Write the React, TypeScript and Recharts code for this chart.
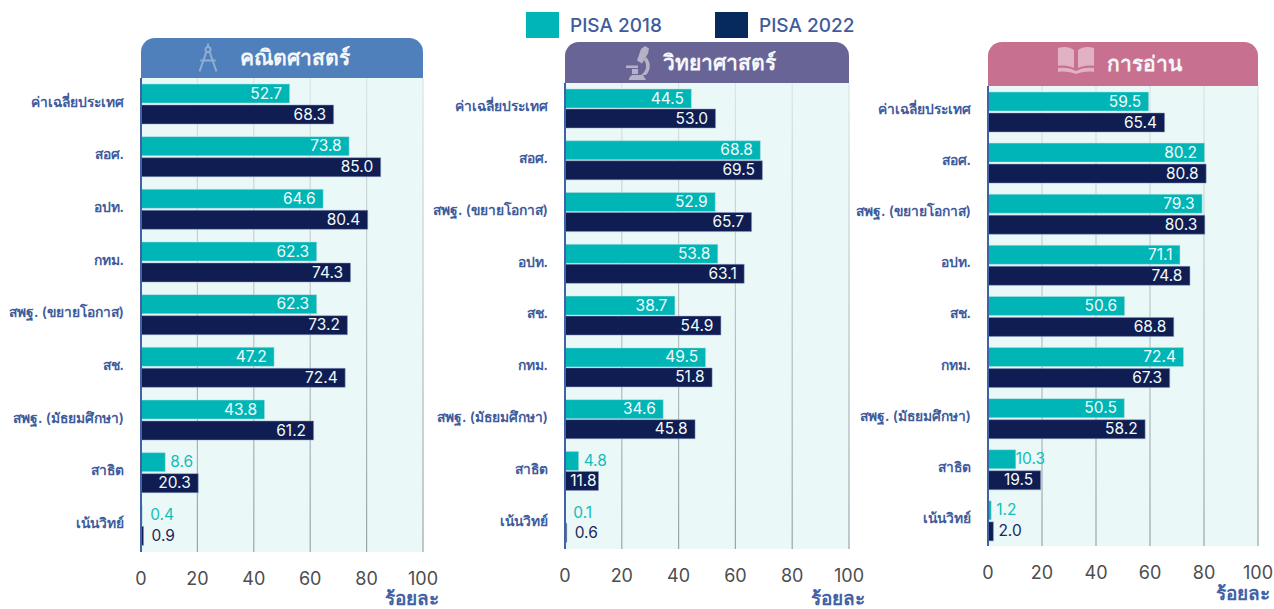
import React from 'react';
import { BarChart, Bar, XAxis, YAxis, CartesianGrid, LabelList } from 'recharts';

const mathCategories = ['ค่าเฉลี่ยประเทศ', 'สอศ.', 'อปท.', 'กทม.', 'สพฐ. (ขยายโอกาส)', 'สช.', 'สพฐ. (มัธยมศึกษา)', 'สาธิต', 'เน้นวิทย์'];
const math2018 = [52.7, 73.8, 64.6, 62.3, 62.3, 47.2, 43.8, 8.6, 0.4];
const math2022 = [68.3, 85.0, 80.4, 74.3, 73.2, 72.4, 61.2, 20.3, 0.9];

const scienceCategories = ['ค่าเฉลี่ยประเทศ', 'สอศ.', 'สพฐ. (ขยายโอกาส)', 'อปท.', 'สช.', 'กทม.', 'สพฐ. (มัธยมศึกษา)', 'สาธิต', 'เน้นวิทย์'];
const science2018 = [44.5, 68.8, 52.9, 53.8, 38.7, 49.5, 34.6, 4.8, 0.1];
const science2022 = [53.0, 69.5, 65.7, 63.1, 54.9, 51.8, 45.8, 11.8, 0.6];

const readingCategories = ['ค่าเฉลี่ยประเทศ', 'สอศ.', 'สพฐ. (ขยายโอกาส)', 'อปท.', 'สช.', 'กทม.', 'สพฐ. (มัธยมศึกษา)', 'สาธิต', 'เน้นวิทย์'];
const reading2018 = [59.5, 80.2, 79.3, 71.1, 50.6, 72.4, 50.5, 10.3, 1.2];
const reading2022 = [65.4, 80.8, 80.3, 74.8, 68.8, 67.3, 58.2, 19.5, 2.0];

const xTicks = [0, 20, 40, 60, 80, 100];

const TEAL = '#00b5b5';
const NAVY = '#0f1d52';
const FONT = 'Inter, "Noto Sans", sans-serif';

const buildRows = (cats: string[], a: number[], b: number[]) =>
  cats.map((name, i) => ({ name, y2018: a[i], y2022: b[i] }));

// labels sit inside the bar end, short bars get them outside in the series colour
const barLabel = (outsideColor: string) => (props: any) => {
  const { x, y, width, height, value } = props;
  const inside = value >= 11;
  const insideGap = value < 15 ? 2 : 7.5;
  return (
    <text
      x={inside ? x + width - insideGap : x + width + (value < 1 ? 8 : value > 10 ? 0 : 5)}
      y={y + height / 2 + 5}
      textAnchor={inside ? 'end' : 'start'}
      fontSize={15.5}
      fontFamily={FONT}
      fill={inside ? '#f2fbfb' : outsideColor}
    >
      {Number(value).toFixed(1)}
    </text>
  );
};

const CompassIcon = () => (
  <svg width="22" height="32" viewBox="0 0 26 34" fill="none" stroke="#8fadd3" strokeWidth="2.4">
    <circle cx="13" cy="7" r="3" />
    <path d="M13 0v4M11 10L3 33M15 10l8 23M4 20h18" />
  </svg>
);

const MicroscopeIcon = () => (
  <svg width="25" height="34" viewBox="0 0 25 34" fill="#b5b2c8">
    <path d="M15 3l4-3 4 2.500-1 5-6 10-5-3z" />
    <path d="M0 19.500h12v2.500H0z" />
    <path d="M20 11c5 5 5 13 0 18h-5c5-3 7-10 3-15z" />
    <path d="M3 34c0-3 2-5 5-5h9l3 5zM6 23h6v5H6z" />
  </svg>
);

const BookIcon = () => (
  <svg width="38" height="28" viewBox="0 0 38 28" fill="#e3b1c4">
    <path d="M1 2c6-2 12-1 16 2v18c-4-2-10-3-16-2zM37 2c-6-2-12-1-16 2v18c4-2 10-3 16-2z" />
    <path d="M1 22c6-1 13 0 18 3 5-3 12-4 18-3v4c-6-1-13 0-18 2-5-2-12-3-18-2z" />
  </svg>
);

interface PanelProps {
  title: string;
  icon: React.ReactNode;
  headerColor: string;
  iconLeft: number;
  titleLeft: number;
  rows: any[];
  plotLeft: number;
  plotRight: number;
  headerTop: number;
  plotTop: number;
  plotBottom: number;
  gridId: string;
  unitTop: number;
  unitLeft: number;
  barGap: number;
}

const AXIS_HEIGHT = 40;

const Panel: React.FC<PanelProps> = ({ title, icon, headerColor, iconLeft, titleLeft, rows, plotLeft, plotRight, headerTop, plotTop, plotBottom, gridId, unitTop, unitLeft, barGap }) => {
  const chartLeft = plotLeft - 140;
  const width = plotRight - chartLeft + 20;
  const height = plotBottom - plotTop + 8 + AXIS_HEIGHT;
  return (
    <>
      <div
        style={{
          position: 'absolute', left: plotLeft, top: headerTop, width: plotRight - plotLeft,
          height: plotTop - headerTop, background: headerColor, borderRadius: '14px 14px 0 0',
        }}
      />
      <div style={{ position: 'absolute', left: iconLeft, top: headerTop + 4 }}>{icon}</div>
      <div
        style={{
          position: 'absolute', left: titleLeft, top: headerTop, height: plotTop - headerTop,
          lineHeight: `${plotTop - headerTop}px`, color: '#f4f6fa', fontFamily: FONT, fontSize: 21, fontWeight: 600,
        }}
      >
        {title}
      </div>
      <div style={{ position: 'absolute', left: chartLeft, top: plotTop - 8 }}>
        <BarChart
          width={width}
          height={height}
          data={rows}
          layout="vertical"
          barSize={19}
          barGap={barGap}
          margin={{ top: 8, right: 20, bottom: 0, left: 0 }}
        >
          <defs>
            <linearGradient id={gridId} gradientUnits="userSpaceOnUse" x1="0" y1={8} x2="0" y2={plotBottom - plotTop + 8}>
              <stop offset="0%" stopColor="#dbe4e6" />
              <stop offset="100%" stopColor="#98a4a8" />
            </linearGradient>
          </defs>
          <CartesianGrid horizontal={false} stroke={`url(#${gridId})`} strokeWidth={1.2} fill="#ebf8f8" syncWithTicks />
          <XAxis
            type="number"
            domain={[0, 100]}
            ticks={xTicks}
            height={AXIS_HEIGHT}
            axisLine={false}
            tickLine={false}
            tickMargin={14}
            interval={0}
            tick={{ fontSize: 18, fill: '#4d4d4f', fontFamily: FONT }}
          />
          <YAxis
            type="category"
            dataKey="name"
            width={140}
            interval={0}
            axisLine={{ stroke: '#3f63a5', strokeWidth: 2 }}
            tickLine={false}
            tickMargin={11}
            tick={{ fontSize: 13.8, fontWeight: 600, fill: '#3f5c9c', fontFamily: FONT, dy: -2.5 }}
          />
          <Bar dataKey="y2018" fill={TEAL} stroke="#b9dfe0" strokeWidth={0.5} isAnimationActive={false}>
            <LabelList dataKey="y2018" content={barLabel('#13bdb9')} />
          </Bar>
          <Bar dataKey="y2022" fill={NAVY} stroke="#8d9cc0" strokeWidth={0.5} isAnimationActive={false}>
            <LabelList dataKey="y2022" content={barLabel('#1c2858')} />
          </Bar>
        </BarChart>
      </div>
      <div
        style={{
          position: 'absolute', left: unitLeft, top: unitTop, color: '#3f63a5', whiteSpace: 'nowrap',
          fontFamily: FONT, fontSize: 19, fontWeight: 700, lineHeight: '20px',
        }}
      >
        ร้อยละ
      </div>
    </>
  );
};

const LegendItem: React.FC<{ left: number; color: string; label: string }> = ({ left, color, label }) => (
  <>
    <div style={{ position: 'absolute', left, top: 12, width: 33, height: 26, background: color }} />
    <div
      style={{
        position: 'absolute', left: left + 44, top: 13, lineHeight: '26px', color: '#3f5c9c',
        fontFamily: FONT, fontSize: 19, fontWeight: 500,
      }}
    >
      {label}
    </div>
  </>
);

export default function App() {
  return (
    <div style={{ position: 'absolute', left: 0, top: 0, width: 1274, height: 609, overflow: 'hidden', background: '#fff' }}>
      <LegendItem left={526} color={TEAL} label="PISA 2018" />
      <LegendItem left={715} color="#062a5e" label="PISA 2022" />
      <Panel
        title="คณิตศาสตร์" icon={<CompassIcon />} headerColor="#4f80bb" iconLeft={197} titleLeft={240}
        rows={buildRows(mathCategories, math2018, math2022)}
        plotLeft={141} plotRight={423} headerTop={38} plotTop={78} plotBottom={552}
        gridId="gridMath" unitTop={589} unitLeft={385} barGap={2}
      />
      <Panel
        title="วิทยาศาสตร์" icon={<MicroscopeIcon />} headerColor="#686496" iconLeft={626} titleLeft={663}
        rows={buildRows(scienceCategories, science2018, science2022)}
        plotLeft={565} plotRight={849} headerTop={42} plotTop={83} plotBottom={549}
        gridId="gridScience" unitTop={589} unitLeft={811} barGap={1}
      />
      <Panel
        title="การอ่าน" icon={<BookIcon />} headerColor="#c8708f" iconLeft={1057} titleLeft={1107}
        rows={buildRows(readingCategories, reading2018, reading2022)}
        plotLeft={988} plotRight={1258} headerTop={42} plotTop={86} plotBottom={546}
        gridId="gridReading" unitTop={584} unitLeft={1216} barGap={2}
      />
    </div>
  );
}
